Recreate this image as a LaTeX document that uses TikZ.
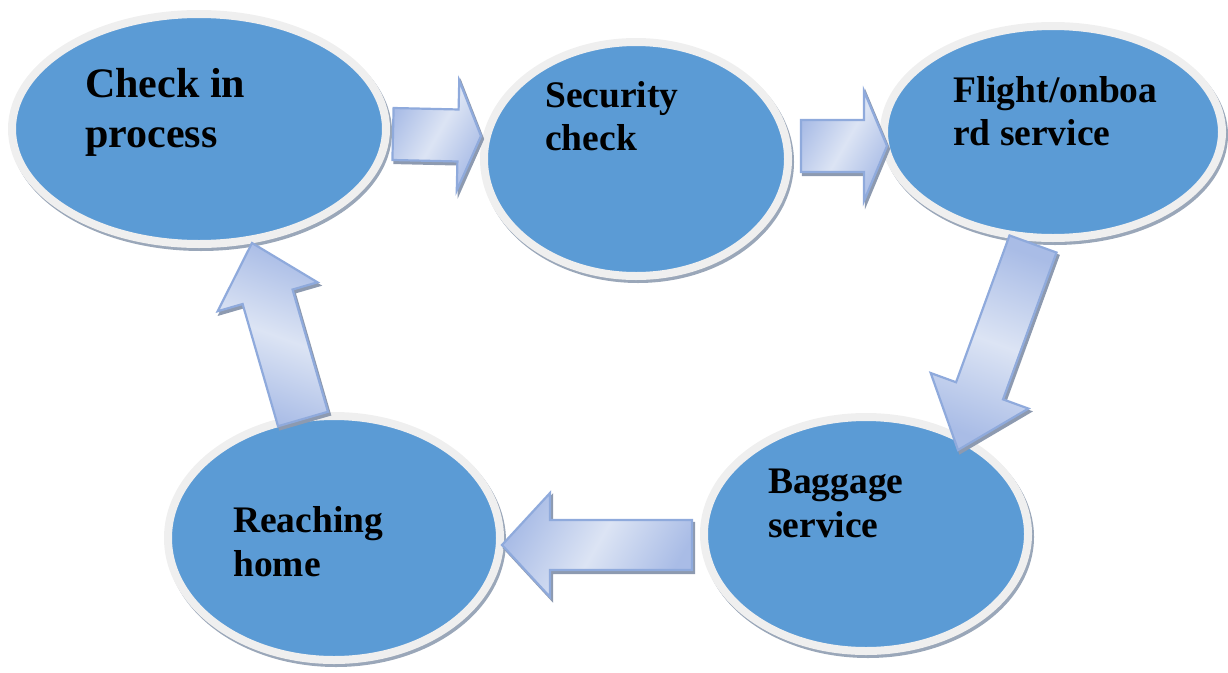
\documentclass[tikz,border=0pt]{standalone}
\usepackage{fontspec}
\setmainfont{Liberation Serif}
\usetikzlibrary{shapes.geometric,calc,shadows}

\definecolor{stageblue}{HTML}{5B9BD5}
\definecolor{stagering}{HTML}{EFEFEF}
\definecolor{stageshade}{HTML}{9AA7B9}
\definecolor{arrowedge}{HTML}{8FAADC}
\definecolor{arrowdark}{HTML}{A9BCE6}
\definecolor{arrowlight}{HTML}{DCE4F4}
\definecolor{arrowshade}{HTML}{8D9AB0}

\tikzset{
  stage/.style={ellipse, draw=stagering, line width=8pt, fill=stageblue, inner sep=0pt,
    drop shadow={shadow xshift=2pt, shadow yshift=-3pt, fill=stageshade,
      draw=stageshade, line width=8pt, opacity=1}},
  stagetext/.style={anchor=base west, inner sep=0pt,
    font=\bfseries\fontsize{37.5}{44}\selectfont},
  arrowbody/.style={draw=arrowedge, line width=2.2pt, line join=miter,
    left color=arrowdark, right color=arrowdark, middle color=arrowlight},
  arrowshadow/.style={fill=arrowshade, draw=arrowshade, line width=2.2pt,
    line join=miter, transform canvas={xshift=2pt, yshift=-3pt}}
}

% block arrow: name, tail, tip, half body width, half head width, head length, shading angle
\newcommand{\flowarrow}[7]{%
  \coordinate (#1base) at ($(#3)!#6pt!(#2)$);
  \coordinate (#1p1) at ($(#2)!#4pt!90:(#3)$);
  \coordinate (#1p2) at ($(#1base)!#4pt!90:(#3)$);
  \coordinate (#1p3) at ($(#1base)!#5pt!90:(#3)$);
  \coordinate (#1p5) at ($(#1base)!#5pt!-90:(#3)$);
  \coordinate (#1p6) at ($(#1base)!#4pt!-90:(#3)$);
  \coordinate (#1p7) at ($(#2)!#4pt!-90:(#3)$);
  \path[arrowshadow] (#1p1) -- (#1p2) -- (#1p3) -- (#3) -- (#1p5) -- (#1p6) -- (#1p7) -- cycle;
  \path[arrowbody, shading angle=#7] (#1p1) -- (#1p2) -- (#1p3) -- (#3) -- (#1p5) -- (#1p6) -- (#1p7) -- cycle;
}

\begin{document}
\begin{tikzpicture}[x=1pt, y=-1pt]
  \useasboundingbox (0,0) rectangle (1228,672);

  % stages
  \node[stage, minimum width=374pt, minimum height=230pt] (checkin) at (199,129) {};
  \node[stage, minimum width=304pt, minimum height=234pt] (security) at (636,159) {};
  \node[stage, minimum width=338pt, minimum height=212pt] (flight) at (1053,132) {};
  \node[stage, minimum width=324pt, minimum height=234pt] (baggage) at (866,534) {};
  \node[stage, minimum width=332pt, minimum height=244pt] (home) at (334,538) {};

  % labels
  \node[stagetext, font=\bfseries\fontsize{42}{48}\selectfont] (checkinA) at (85,97) {Check in};
  \node[stagetext, font=\bfseries\fontsize{42}{48}\selectfont] (checkinB) at (85,147) {process};
  \node[stagetext] (securityA) at (545,107) {Security};
  \node[stagetext] (securityB) at (545,150) {check};
  \node[stagetext] (flightA) at (953,102) {Flight/onboa};
  \node[stagetext] (flightB) at (953,145) {rd service};
  \node[stagetext] (baggageA) at (768,493) {Baggage};
  \node[stagetext] (baggageB) at (768,537) {service};
  \node[stagetext] (homeA) at (233,532) {Reaching};
  \node[stagetext] (homeB) at (233,576) {home};

  % connector end points
  \coordinate (a1tail) at (393,134);  \coordinate (a1tip) at (481,136);
  \coordinate (a2tail) at (801,146);  \coordinate (a2tip) at (887,146);
  \coordinate (a3tail) at (1033,244); \coordinate (a3tip) at (958,450);
  \coordinate (a4tail) at (692,545);  \coordinate (a4tip) at (502,545);
  \coordinate (a5tail) at (303,419);  \coordinate (a5tip) at (252,243);

  % connectors
  \flowarrow{a1}{a1tail}{a1tip}{26}{55}{23}{60}
  \flowarrow{a2}{a2tail}{a2tip}{26}{55}{23}{60}
  \flowarrow{a3}{a3tail}{a3tip}{25}{52}{63}{-20}
  \flowarrow{a4}{a4tail}{a4tip}{25}{52}{48}{60}
  \flowarrow{a5}{a5tail}{a5tip}{26}{52}{56}{-20}
\end{tikzpicture}
\end{document}
